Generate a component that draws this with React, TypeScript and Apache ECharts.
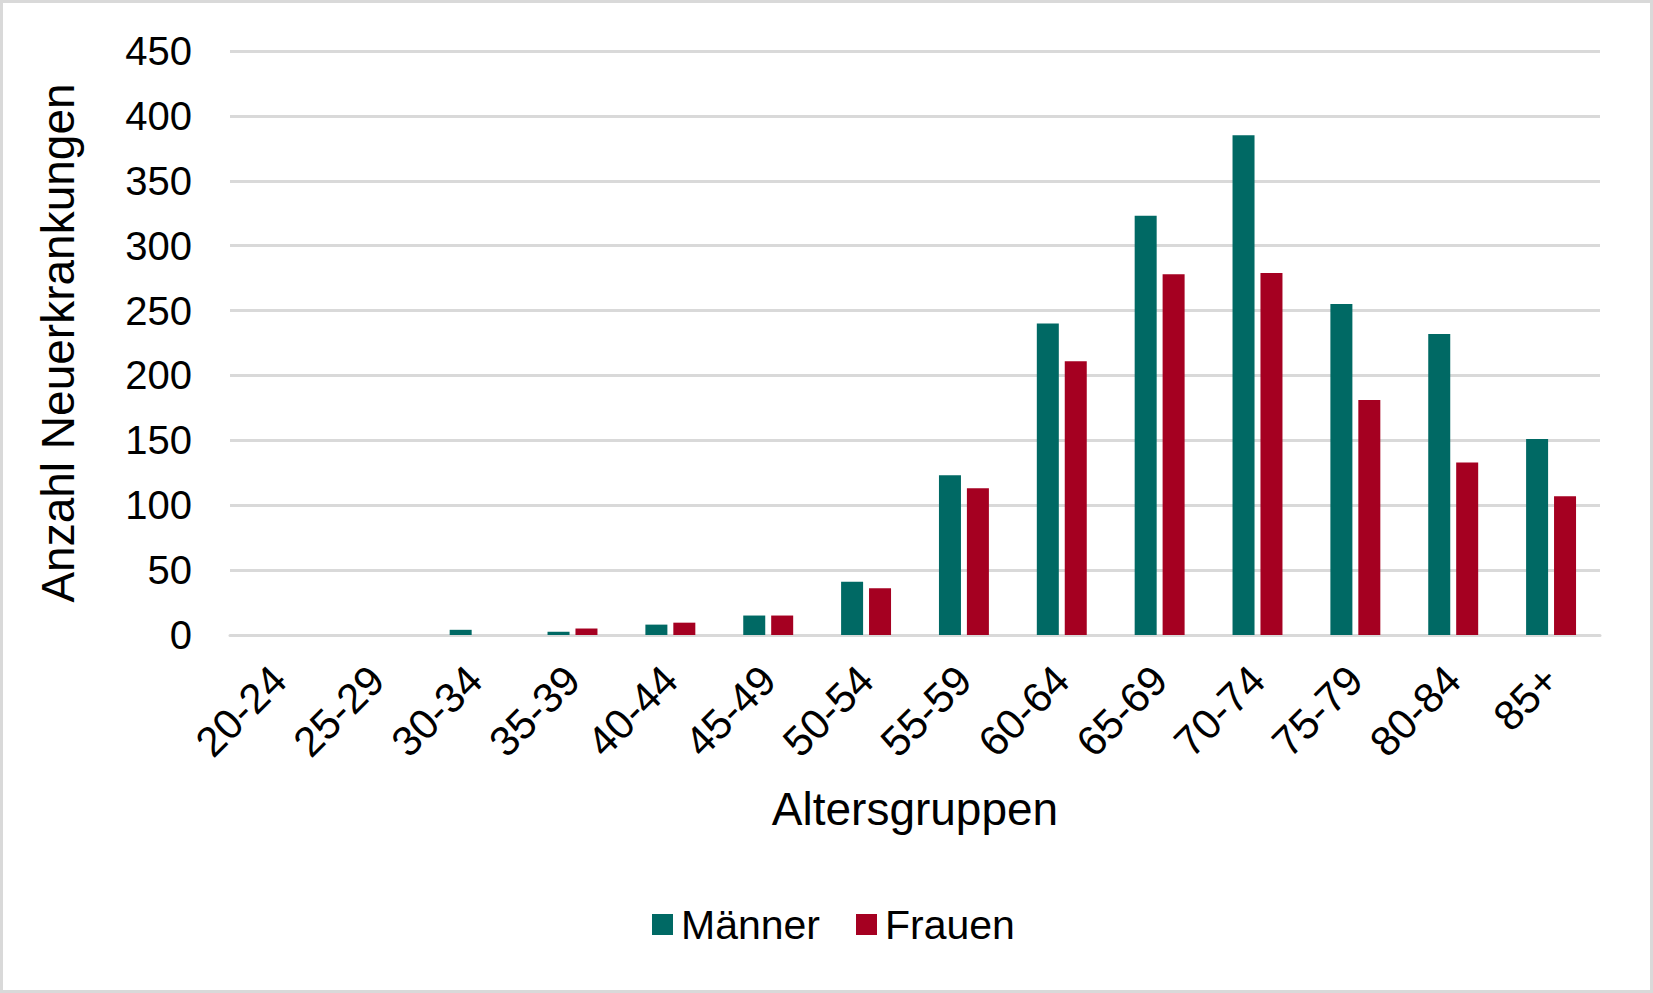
import React, { useEffect, useRef } from "react";
import * as echarts from "echarts";

const categories = ["20-24", "25-29", "30-34", "35-39", "40-44", "45-49", "50-54", "55-59", "60-64", "65-69", "70-74", "75-79", "80-84", "85+"];
const maenner = [0, 0, 4, 2.5, 8, 15, 41, 123, 240, 323, 385, 255, 232, 151];
const frauen = [0, 0, 0, 5, 9.5, 15, 36, 113, 211, 278, 279, 181, 133, 107];
const yTicks = { min: 0, max: 450, interval: 50 };

const FONT = "'Liberation Sans', Arial, sans-serif";
const TEAL = "#006964";
const RED = "#A50021";
const GRID_GRAY = "#d9d9d9";

export default function App() {
  const ref = useRef<HTMLDivElement>(null);
  useEffect(() => {
    document.body.style.margin = "0";
    const chart = echarts.init(ref.current!, null, { renderer: "svg" });
    chart.setOption({
      animation: false,
      backgroundColor: "#ffffff",
      textStyle: { fontFamily: FONT },
      graphic: [
        {
          type: "rect",
          shape: { x: 1.5, y: 1.5, width: 1650, height: 990 },
          style: { fill: "none", stroke: GRID_GRAY, lineWidth: 3 },
          silent: true,
        },
      ],
      grid: { left: 230, right: 53, top: 51, bottom: 358, containLabel: false },
      legend: {
        data: ["Männer", "Frauen"],
        left: 647,
        top: 899,
        itemWidth: 21,
        itemHeight: 21,
        itemGap: 36,
        icon: "rect",
        textStyle: { fontSize: 41, color: "#000", fontFamily: FONT, padding: [0, 0, 0, 3] },
      },
      xAxis: {
        type: "category",
        data: categories,
        name: "Altersgruppen",
        nameLocation: "middle",
        nameGap: 151,
        nameTextStyle: { fontSize: 46, color: "#000", fontFamily: FONT },
        axisLine: { show: true, lineStyle: { color: GRID_GRAY, width: 3 } },
        axisTick: { show: false },
        axisLabel: {
          rotate: 45,
          fontSize: 42,
          color: "#000",
          fontFamily: FONT,
          margin: 38,
          interval: 0,
        },
      },
      yAxis: {
        type: "value",
        min: yTicks.min,
        max: yTicks.max,
        interval: yTicks.interval,
        name: "Anzahl Neuerkrankungen",
        nameLocation: "middle",
        nameGap: 149,
        nameTextStyle: { fontSize: 46, color: "#000", fontFamily: FONT },
        axisLine: { show: false },
        axisTick: { show: false },
        axisLabel: { fontSize: 40, color: "#000", fontFamily: FONT, margin: 38 },
        splitLine: { show: true, lineStyle: { color: GRID_GRAY, width: 3 } },
      },
      series: [
        {
          name: "Männer",
          type: "bar",
          data: maenner,
          barWidth: 22,
          barGap: "27%",
          itemStyle: { color: TEAL },
        },
        {
          name: "Frauen",
          type: "bar",
          data: frauen,
          barWidth: 22,
          barGap: "27%",
          itemStyle: { color: RED },
        },
      ],
    });
    return () => chart.dispose();
  }, []);
  return <div ref={ref} style={{ width: 1653, height: 993 }} />;
}
